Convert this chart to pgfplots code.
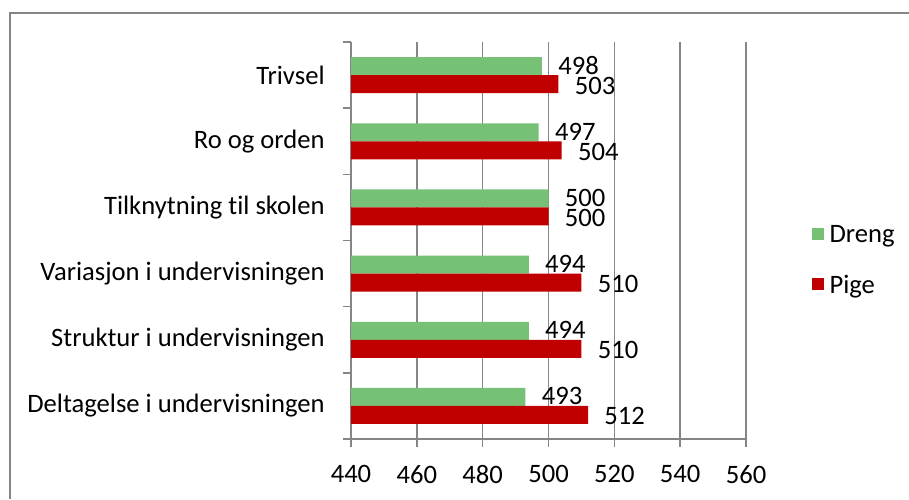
\documentclass[border=0pt]{standalone}
\usepackage{fontspec}
\setmainfont{Carlito}[Ligatures=NoCommon]
\usepackage{pgfplots}
\pgfplotsset{compat=1.18}
\definecolor{dreng}{HTML}{77C177}
\definecolor{pige}{HTML}{C00000}
\definecolor{gline}{HTML}{868686}
\newcommand{\chartfont}{\fontsize{13.3}{15}\selectfont}
\begin{document}
\begin{tikzpicture}
\useasboundingbox (0,0) rectangle (454.5pt,249.5pt);
\draw[gline, line width=1pt] (5pt,0) -- (5pt,243pt) -- (460pt,243pt);
\begin{axis}[
  at={(175.5pt,30pt)}, anchor=south west,
  scale only axis, width=197.5pt, height=198.5pt,
  xbar, bar width=9pt,
  xmin=440, xmax=560, ymin=-0.5, ymax=5.5,
  axis lines=left, axis line style={gline, line width=0.75pt, -},
  xtick={440,460,...,560}, tick align=outside, major tick length=4pt,
  tick style={gline, line width=0.75pt},
  xmajorgrids, grid style={gline, line width=0.75pt},
  ytick={-0.5,0.5,...,5.5}, yticklabels={},
  extra y ticks={0,1,2,3,4,5},
  extra y tick labels={Deltagelse i undervisningen,Struktur i undervisningen,Variasjon i undervisningen,Tilknytning til skolen,Ro og orden,Trivsel},
  extra y tick style={tick style={draw=none}, grid=none},
  yticklabel style={anchor=east, inner sep=0pt, xshift=-9pt},
  xticklabel style={anchor=north, inner sep=0pt, yshift=-9pt},
  /pgf/number format/assume math mode=true,
  tick label style={font=\chartfont, black},
  point meta=x,
  nodes near coords,
  nodes near coords style={anchor=west, inner sep=0pt, xshift=8pt, font=\chartfont, black},
  legend style={at={(1.165,0.452)}, anchor=west, draw=none, fill=none, font=\chartfont, row sep=16pt, inner sep=0pt,
    nodes={inner sep=0pt, text depth=0pt}},
  legend cell align=left,
  legend image code/.code={\fill[#1] (0pt,-3pt) rectangle (6pt,3pt); \path (9pt,0);},
]
\addplot[fill=dreng, draw=none, bar shift=4.5pt,
  nodes near coords style={yshift=0.25pt}] coordinates {
(493,0) (494,1) (494,2) (500,3) (497,4) (498,5)
};
\addlegendentry{Dreng}
\addplot[fill=pige, draw=none, bar shift=-4.5pt,
  nodes near coords style={yshift=-0.75pt}] coordinates {
(512,0) (510,1) (510,2) (500,3) (504,4) (503,5)
};
\addlegendentry{Pige}
\end{axis}
\end{tikzpicture}
\end{document}
